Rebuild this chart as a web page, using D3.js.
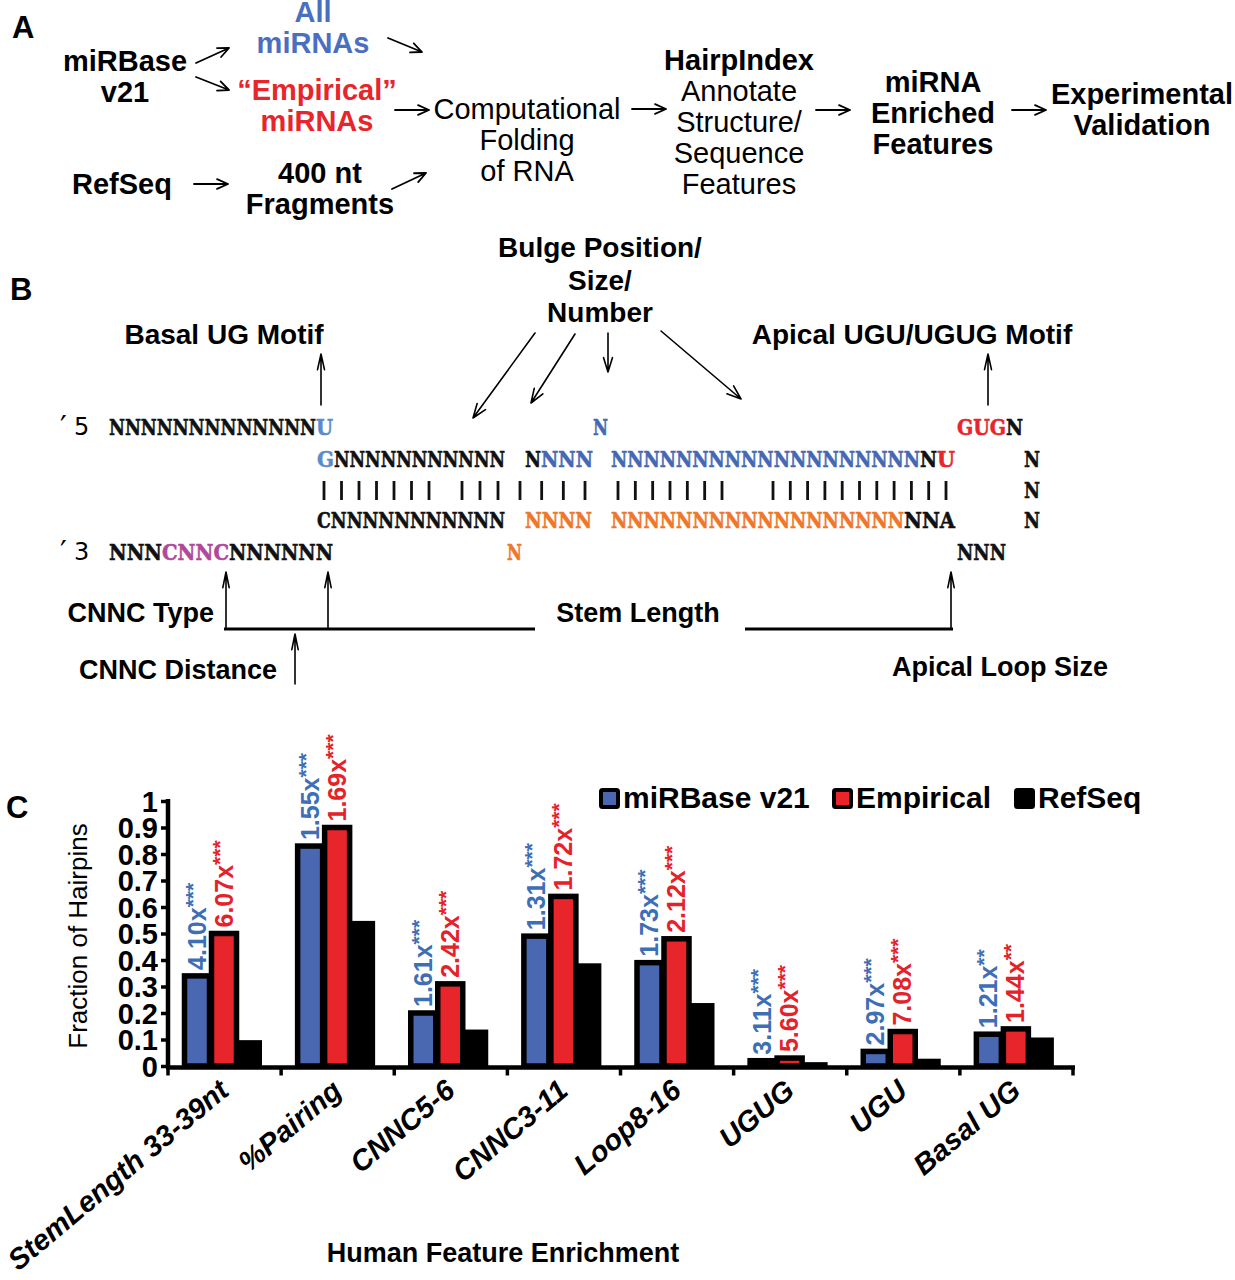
<!DOCTYPE html>
<html><head><meta charset="utf-8">
<script src="https://cdn.jsdelivr.net/npm/d3@7"></script>
<style>body{margin:0;background:#fff}svg{display:block}</style>
</head><body>
<svg id="fig" width="1235" height="1280"></svg>
<script>
// ---------------- DATA (panel C) ----------------
const categories = ["StemLength 33-39nt","%Pairing","CNNC5-6","CNNC3-11","Loop8-16","UGUG","UGU","Basal UG"];
const seriesNames = ["miRBase v21","Empirical","RefSeq"];
const mirbaseValues   = [0.34, 0.83, 0.20, 0.49, 0.39, 0.020, 0.055, 0.12];
const empiricalValues = [0.50, 0.90, 0.31, 0.64, 0.48, 0.030, 0.130, 0.14];
const refseqValues    = [0.09, 0.54, 0.13, 0.38, 0.23, 0.007, 0.020, 0.10];
const mirbaseFold   = ["4.10x","1.55x","1.61x","1.31x","1.73x","3.11x","2.97x","1.21x"];
const mirbaseStars  = ["***","***","***","***","***","***","***","**"];
const empiricalFold = ["6.07x","1.69x","2.42x","1.72x","2.12x","5.60x","7.08x","1.44x"];
const empiricalStars= ["***","***","***","***","***","***","***","**"];
const yTickValues = [0,0.1,0.2,0.3,0.4,0.5,0.6,0.7,0.8,0.9,1];
const yTickLabels = ["0","0.1","0.2","0.3","0.4","0.5","0.6","0.7","0.8","0.9","1"];
const yTitle = "Fraction of Hairpins";
const xTitle = "Human Feature Enrichment";

// colours
const BLUE = "#4a67b2", RED = "#e8252b", BLUE_T = "#3d6fb6", RED_T = "#e5222a";
const SEQ_BLUE = "#4668b3", SEQ_LBLUE = "#5b8bcc", SEQ_RED = "#e8252b", SEQ_ORANGE = "#ef772a", SEQ_MAG = "#b0489c";

const svg = d3.select("#fig");
const SANS = "'Liberation Sans', Arial, Helvetica, sans-serif";
const SLAB = "'DejaVu Serif', serif";

function text(x, y, s, o = {}) {
  const t = svg.append("text").attr("x", x).attr("y", y).text(s)
    .attr("font-family", o.family || SANS)
    .attr("font-size", o.size || 29)
    .attr("font-weight", o.weight || "bold")
    .attr("fill", o.fill || "#000")
    .attr("text-anchor", o.anchor || "middle");
  if (o.style) t.attr("font-style", o.style);
  if (o.len) t.attr("textLength", o.len).attr("lengthAdjust", "spacingAndGlyphs");
  return t;
}
function arrow(x1, y1, x2, y2, o = {}) {
  const head = o.head || 12, ang = o.ang || 0.42;
  const a = Math.atan2(y2 - y1, x2 - x1);
  const p1 = [x2 - head * Math.cos(a - ang), y2 - head * Math.sin(a - ang)];
  const p2 = [x2 - head * Math.cos(a + ang), y2 - head * Math.sin(a + ang)];
  svg.append("path")
    .attr("d", `M${x1},${y1}L${x2},${y2}M${p1[0]},${p1[1]}L${x2},${y2}L${p2[0]},${p2[1]}`)
    .attr("fill", "none").attr("stroke", "#000").attr("stroke-width", o.w || 1.8)
    .attr("stroke-linecap", "round").attr("stroke-linejoin", "round");
}

// ---------------- PANEL A ----------------
text(12, 38, "A", {anchor: "start", size: 31});
const flowNodes = [
  {lines: ["All", "miRNAs"], x: 313, y: 21.5, w: "bold", fill: "#4a6fc0"},
  {lines: ["miRBase", "v21"], x: 125, y: 71, w: "bold"},
  {lines: ["\u201CEmpirical\u201D", "miRNAs"], x: 317, y: 100, w: "bold", fill: "#e8252b"},
  {lines: ["RefSeq"], x: 122, y: 194, w: "bold"},
  {lines: ["400 nt", "Fragments"], x: 320, y: 183, w: "bold"},
  {lines: ["Computational", "Folding", "of RNA"], x: 527, y: 119, w: "normal"},
  {lines: ["HairpIndex"], x: 739, y: 70, w: "bold"},
  {lines: ["Annotate", "Structure/", "Sequence", "Features"], x: 739, y: 101, w: "normal"},
  {lines: ["miRNA", "Enriched", "Features"], x: 933, y: 92, w: "bold"},
  {lines: ["Experimental", "Validation"], x: 1142, y: 104, w: "bold"}
];
flowNodes.forEach(n => n.lines.forEach((l, i) =>
  text(n.x, n.y + i * 31, l, {weight: n.w, fill: n.fill || "#000", size: 29})));
arrow(196, 63, 229, 48);
arrow(196, 77, 229, 90);
arrow(388, 38, 422, 52);
arrow(395, 110, 429, 110);
arrow(194, 184, 228, 184);
arrow(392, 189, 426, 173);
arrow(632, 109, 666, 109);
arrow(816, 110, 850, 110);
arrow(1012, 110, 1046, 110);

// ---------------- PANEL B ----------------
text(10, 300, "B", {anchor: "start", size: 31});
["Bulge Position/", "Size/", "Number"].forEach((l, i) => text(600, 257 + i * 32.5, l, {size: 28}));
text(224, 344, "Basal UG Motif", {size: 28});
text(912, 344, "Apical UGU/UGUG Motif", {size: 28});
arrow(321, 405, 321, 354, {head: 16, ang: 0.22, w: 1.6});
arrow(988, 405, 988, 354, {head: 16, ang: 0.22, w: 1.6});
arrow(535, 333, 473, 418, {head: 15, ang: 0.35, w: 1.6});
arrow(575, 334, 531, 403, {head: 15, ang: 0.35, w: 1.6});
arrow(608, 333, 608, 372, {head: 15, ang: 0.3, w: 1.6});
arrow(661, 331, 741, 399, {head: 15, ang: 0.35, w: 1.6});

// sequence rows: one text per contiguous run, coloured tspans [text, x-start, x-end, colour]
function seqRun(y, segs) {
  const t = svg.append("text").attr("y", y).attr("font-family", SLAB).attr("font-size", 23)
    .attr("font-weight", "bold");
  segs.forEach(s => t.append("tspan").attr("x", s[1]).attr("textLength", s[2] - s[1])
    .attr("lengthAdjust", "spacingAndGlyphs").attr("fill", s[3]).attr("stroke", s[3])
    .attr("stroke-width", 0.6).text(s[0]));
}
[[435, "5"], [560, "3"]].forEach(([yy, n]) => {
  svg.append("text").attr("x", 60).attr("y", yy).attr("font-family", "'DejaVu Sans', sans-serif")
    .attr("font-size", 24)
    .call(t => { t.append("tspan").attr("font-size", 30).attr("dy", 2).text("\u2032");
                 t.append("tspan").attr("x", 74).attr("dy", -2).text(n); });
});
seqRun(435, [["NNNNNNNNNNNNN", 109, 316, "#111"], ["U", 316, 333, SEQ_LBLUE]]);
seqRun(435, [["N", 593, 608, SEQ_BLUE]]);
seqRun(435, [["GUG", 957, 1006, SEQ_RED], ["N", 1006, 1023, "#111"]]);
seqRun(467, [["G", 317, 334, SEQ_LBLUE], ["NNNNNNNNNNN", 334, 505, "#111"]]);
seqRun(467, [["N", 525, 541, "#111"], ["NNN", 541, 593, SEQ_BLUE]]);
seqRun(467, [["NNNNNNNNNNNNNNNNNNN", 611, 920, SEQ_BLUE], ["N", 920, 937, "#111"], ["U", 937, 955, SEQ_RED]]);
seqRun(467, [["N", 1024, 1040, "#111"]]);
seqRun(498, [["N", 1024, 1040, "#111"]]);
seqRun(528, [["CNNNNNNNNNNN", 317, 505, "#111"]]);
seqRun(528, [["NNNN", 525, 592, SEQ_ORANGE]]);
seqRun(528, [["NNNNNNNNNNNNNNNNNN", 611, 904, SEQ_ORANGE], ["NNA", 904, 955, "#111"]]);
seqRun(528, [["N", 1024, 1040, "#111"]]);
seqRun(560, [["NNN", 109, 162, "#111"], ["CNNC", 162, 229, SEQ_MAG], ["NNNNNN", 229, 333, "#111"]]);
seqRun(560, [["N", 507, 522, SEQ_ORANGE]]);
seqRun(560, [["NNN", 957, 1006, "#111"]]);
// base-pair bars: groups [x-start, x-end, count]
const pairGroups = [[324, 429, 7], [462, 498, 3], [520, 585, 4], [618, 722, 7], [773, 946, 11]];
pairGroups.forEach(([a, b, n]) => {
  for (let i = 0; i < n; i++) {
    const xx = a + (b - a) * i / (n - 1);
    svg.append("line").attr("x1", xx).attr("x2", xx).attr("y1", 481).attr("y2", 500)
      .attr("stroke", "#111").attr("stroke-width", 2.8);
  }
});
// bottom annotations
arrow(226, 628, 226, 572, {head: 16, ang: 0.2, w: 1.6});
arrow(328, 628, 328, 572, {head: 16, ang: 0.2, w: 1.6});
arrow(951, 628, 951, 572, {head: 16, ang: 0.2, w: 1.6});
arrow(295, 684, 295, 634, {head: 16, ang: 0.2, w: 1.6});
svg.append("line").attr("x1", 224).attr("x2", 535).attr("y1", 629).attr("y2", 629).attr("stroke", "#000").attr("stroke-width", 3);
svg.append("line").attr("x1", 745).attr("x2", 953).attr("y1", 629).attr("y2", 629).attr("stroke", "#000").attr("stroke-width", 3);
text(214, 622, "CNNC Type", {anchor: "end", size: 27});
text(638, 622, "Stem Length", {size: 27});
text(178, 679, "CNNC Distance", {size: 27});
text(1000, 676, "Apical Loop Size", {size: 27});

// ---------------- PANEL C ----------------
text(6, 818, "C", {anchor: "start", size: 31});
const x = d3.scaleBand().domain(categories).range([168, 1073]);
const bw = 27;
const xs = d3.scaleBand().domain(seriesNames).range([14, 14 + 3 * bw]);
const y = d3.scaleLinear().domain([0, 1]).range([1066, 801]);
const valuesBySeries = [mirbaseValues, empiricalValues, refseqValues];
const fills = [BLUE, RED, "#000"];

const gBars = svg.append("g");
[0, 1].forEach(si => {
  gBars.selectAll(null).data(categories).enter().append("rect")
    .attr("x", c => x(c) + xs(seriesNames[si]) + 2.5)
    .attr("width", bw - 2)
    .attr("y", (c, i) => y(valuesBySeries[si][i]))
    .attr("height", (c, i) => y(0) - y(valuesBySeries[si][i]))
    .attr("fill", fills[si]).attr("stroke", "#000").attr("stroke-width", 5.5);
});
gBars.selectAll(null).data(categories).enter().append("rect")
  .attr("x", c => x(c) + xs(seriesNames[2]))
  .attr("width", bw - 1)
  .attr("y", (c, i) => y(refseqValues[i]) - 2)
  .attr("height", (c, i) => y(0) - y(refseqValues[i]) + 2)
  .attr("fill", "#000");

// fold-change labels
function foldLabels(si, folds, stars, color) {
  categories.forEach((c, i) => {
    const cx = x(c) + xs(seriesNames[si]) + bw / 2 + 1.5;
    const yy = y(valuesBySeries[si][i]) - 6;
    const t = svg.append("text").attr("transform", `translate(${cx + 8.5},${yy}) rotate(-90)`)
      .attr("font-family", SANS).attr("font-weight", "bold").attr("font-size", 25).attr("fill", color);
    t.append("tspan").text(folds[i]);
    t.append("tspan").attr("dy", -6).attr("font-size", 21).text(stars[i]);
  });
}
foldLabels(0, mirbaseFold, mirbaseStars, BLUE_T);
foldLabels(1, empiricalFold, empiricalStars, RED_T);

// y axis
const yAxis = d3.axisLeft(y).tickValues(yTickValues).tickFormat((d, i) => yTickLabels[i]).tickSize(7).tickPadding(3);
const gy = svg.append("g").attr("transform", "translate(168,0)").call(yAxis);
gy.select(".domain").attr("d", `M0,${y(0) + 2}V${y(1) - 2}`).attr("stroke-width", 4.5);
gy.selectAll(".tick line").attr("stroke-width", 3.5);
gy.selectAll(".tick text").attr("font-family", SANS).attr("font-weight", "bold").attr("font-size", 29).attr("fill", "#000").attr("dy", "0.36em");

// x axis
const gx = svg.append("g").attr("transform", `translate(0,${y(0) + 1.5})`);
gx.append("line").attr("x1", 166).attr("x2", 1075).attr("y1", 0).attr("y2", 0).attr("stroke", "#000").attr("stroke-width", 4.5);
const boundaries = categories.map(c => x(c)).concat([x.range()[1]]);
gx.selectAll(null).data(boundaries).enter().append("line")
  .attr("x1", d => d).attr("x2", d => d).attr("y1", 0).attr("y2", 8).attr("stroke", "#000").attr("stroke-width", 3.5);
gx.selectAll(null).data(categories).enter().append("text")
  .attr("transform", c => `translate(${x(c) + x.bandwidth() / 2 + 6},${26}) rotate(-40)`)
  .attr("text-anchor", "end").attr("font-family", SANS).attr("font-weight", "bold").attr("font-style", "italic")
  .attr("font-size", 29).text(c => c);

// axis titles
svg.append("text").attr("transform", "translate(87,936) rotate(-90)").attr("text-anchor", "middle")
  .attr("font-family", SANS).attr("font-size", 26).text(yTitle);
text(503, 1262, xTitle, {size: 27});

// legend
const legendX = [599, 832, 1014];
seriesNames.forEach((s, i) => {
  svg.append("rect").attr("x", legendX[i] + 2).attr("y", 790).attr("width", 17).attr("height", 17)
    .attr("fill", fills[i]).attr("stroke", "#000").attr("stroke-width", 4).attr("rx", 1.5);
  text(legendX[i] + 24, 808, s, {anchor: "start", size: 30});
});
</script>
</body></html>
